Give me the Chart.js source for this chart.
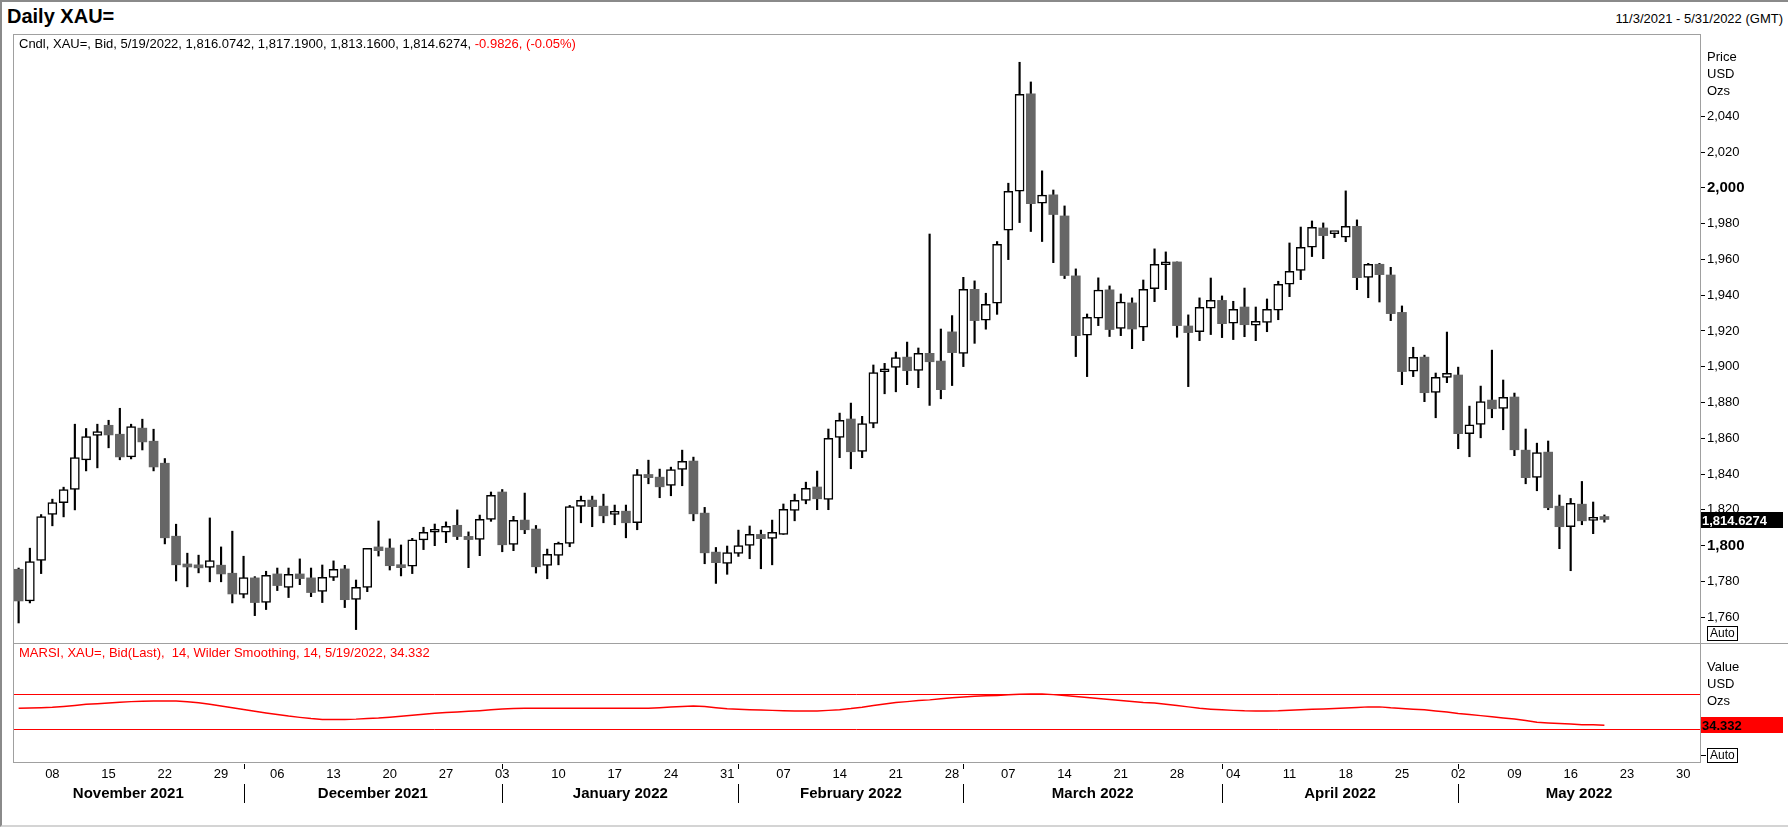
<!DOCTYPE html>
<html>
<head>
<meta charset="utf-8">
<title>Daily XAU=</title>
<script src="https://cdn.jsdelivr.net/npm/chart.js@4.4.0/dist/chart.umd.min.js"></script>
<style>
  body { margin: 0; background: #fff; font-family: "Liberation Sans", Arial, sans-serif; }
  #wrap { position: relative; width: 1788px; height: 827px; overflow: hidden; background: #fff; }
  canvas { position: absolute; left: 0; }
  .txt { position: absolute; white-space: nowrap; color: #000; font-size: 13px; line-height: 16px; }
  .frame { position: absolute; border: 1px solid #a0a0a0; box-sizing: border-box; pointer-events: none; }
  .hline { position: absolute; height: 1px; background: #a0a0a0; }
  .auto { position: absolute; border: 1px solid #000; font-size: 12px; line-height: 13px; padding: 0 2px; }
  .outer { position: absolute; left: 0; top: 0; width: 1788px; height: 827px; box-sizing: border-box;
           border-top: 2px solid #8a8a8a; border-left: 2px solid #8a8a8a; border-bottom: 2px solid #d4d4d4; pointer-events: none; }
</style>
</head>
<body>
<div id="wrap">
  <canvas id="priceChart" width="1788" height="609" style="top:34px"></canvas>
  <canvas id="rsiChart" width="1788" height="184" style="top:643px"></canvas>

  <div class="frame" style="left:13px;top:34px;width:1688px;height:729px"></div>
  <div class="hline" style="left:13px;top:643px;width:1775px"></div>

  <div class="txt" style="left:7px;top:3px;font-size:20px;line-height:26px;font-weight:bold">Daily XAU=</div>
  <div class="txt" style="right:5px;top:11px">11/3/2021 - 5/31/2022 (GMT)</div>
  <div class="txt" style="left:19px;top:36px">Cndl, XAU=, Bid, 5/19/2022, 1,816.0742, 1,817.1900, 1,813.1600, 1,814.6274, <span style="color:#f00">-0.9826, (-0.05%)</span></div>

  <div class="txt" style="left:1707px;top:49px">Price</div>
  <div class="txt" style="left:1707px;top:66px">USD</div>
  <div class="txt" style="left:1707px;top:83px">Ozs</div>
  <div class="auto" style="left:1707px;top:626px">Auto</div>

  <div class="txt" style="left:19px;top:645px;color:#f00">MARSI, XAU=, Bid(Last),&nbsp; 14, Wilder Smoothing, 14, 5/19/2022, 34.332</div>
  <div class="txt" style="left:1707px;top:659px">Value</div>
  <div class="txt" style="left:1707px;top:676px">USD</div>
  <div class="txt" style="left:1707px;top:693px">Ozs</div>
  <div class="hline" style="left:1701px;top:755px;width:5px;background:#000"></div>
  <div class="auto" style="left:1707px;top:748px">Auto</div>

  <div class="outer"></div>
</div>

<script>
// candles, one per weekday from 3 Nov 2021 to 19 May 2022
const opens = [
  1786.8, 1769.1, 1791.7, 1817.4, 1824.1, 1831.4, 1848.0, 1861.6, 1867.3, 1862.3,
  1849.6, 1865.7, 1858.4, 1846.1, 1805.3, 1789.6, 1788.9, 1787.8, 1789.1, 1784.6,
  1772.7, 1782.0, 1768.3, 1784.2, 1776.7, 1784.2, 1782.0, 1774.5, 1782.3, 1787.0,
  1770.0, 1776.7, 1799.3, 1798.7, 1789.2, 1788.5, 1803.2, 1807.5, 1807.5, 1811.4,
  1805.2, 1803.5, 1814.7, 1830.0, 1800.7, 1814.3, 1809.3, 1789.0, 1794.6, 1801.3,
  1821.9, 1825.5, 1822.1, 1817.5, 1819.3, 1812.9, 1839.8, 1838.3, 1833.7, 1842.6,
  1847.3, 1818.2, 1796.4, 1790.1, 1795.7, 1800.1, 1806.3, 1804.1, 1806.3, 1819.7,
  1825.3, 1832.8, 1825.9, 1860.5, 1870.8, 1852.7, 1868.3, 1897.2, 1899.6, 1905.4,
  1898.0, 1907.5, 1903.2, 1919.5, 1907.5, 1943.3, 1926.0, 1935.5, 1976.3, 1998.1,
  2052.5, 1991.4, 1996.1, 1984.3, 1950.8, 1917.6, 1927.1, 1943.0, 1921.5, 1935.7,
  1922.1, 1943.7, 1957.0, 1958.6, 1922.8, 1919.6, 1932.7, 1937.1, 1924.3, 1933.4,
  1923.2, 1924.8, 1931.6, 1946.1, 1953.9, 1966.8, 1977.6, 1974.4, 1972.4, 1978.5,
  1950.0, 1957.3, 1951.3, 1930.4, 1897.5, 1905.4, 1885.7, 1894.1, 1895.4, 1862.6,
  1867.8, 1881.4, 1876.7, 1883.1, 1853.4, 1838.2, 1852.3, 1822.1, 1810.6, 1823.2,
  1814.1, 1816.0742
];
const highs = [
  1787.5, 1798.6, 1817.4, 1826.0, 1832.7, 1867.9, 1865.5, 1867.9, 1870.1, 1876.8,
  1867.9, 1870.7, 1865.1, 1848.7, 1812.0, 1795.8, 1794.7, 1815.5, 1799.3, 1808.1,
  1794.1, 1782.7, 1785.7, 1787.5, 1787.5, 1792.6, 1787.5, 1789.2, 1791.5, 1789.0,
  1780.8, 1798.5, 1813.8, 1803.8, 1800.4, 1804.1, 1810.3, 1812.1, 1813.3, 1820.0,
  1807.7, 1817.1, 1830.0, 1831.4, 1816.4, 1829.4, 1811.3, 1798.1, 1802.0, 1822.5,
  1827.7, 1827.7, 1828.8, 1822.7, 1822.7, 1842.6, 1847.8, 1842.8, 1843.9, 1853.4,
  1849.5, 1821.4, 1799.0, 1799.8, 1808.7, 1811.0, 1808.7, 1814.3, 1823.3, 1828.8,
  1835.5, 1841.7, 1865.2, 1874.1, 1879.7, 1872.3, 1901.0, 1901.9, 1908.2, 1913.8,
  1910.5, 1974.2, 1921.1, 1928.6, 1950.0, 1948.0, 1941.1, 1970.0, 2002.6, 2070.2,
  2059.2, 2009.5, 1998.8, 1989.9, 1954.7, 1929.5, 1949.7, 1945.2, 1940.7, 1938.5,
  1948.5, 1965.9, 1964.2, 1958.6, 1929.0, 1938.5, 1949.6, 1939.6, 1936.6, 1944.0,
  1933.4, 1937.9, 1947.8, 1969.2, 1978.1, 1981.5, 1980.4, 1975.3, 1998.3, 1982.1,
  1957.8, 1957.8, 1955.6, 1934.0, 1910.9, 1906.5, 1896.5, 1919.4, 1899.8, 1878.0,
  1889.2, 1909.3, 1892.6, 1885.3, 1865.2, 1857.3, 1858.5, 1828.3, 1826.4, 1835.9,
  1824.4, 1817.19
];
const lows = [
  1756.8, 1768.0, 1784.4, 1811.1, 1816.1, 1820.0, 1841.8, 1843.5, 1854.7, 1848.0,
  1848.5, 1853.5, 1841.8, 1801.0, 1780.3, 1777.0, 1784.8, 1779.8, 1779.8, 1768.0,
  1770.8, 1760.9, 1764.3, 1774.9, 1771.0, 1778.2, 1771.5, 1768.2, 1780.5, 1765.4,
  1753.1, 1774.3, 1794.2, 1786.4, 1783.1, 1784.4, 1797.8, 1800.0, 1801.7, 1803.4,
  1787.7, 1794.4, 1813.6, 1796.6, 1797.2, 1806.7, 1784.7, 1781.5, 1789.3, 1799.4,
  1812.8, 1810.6, 1812.8, 1811.7, 1804.4, 1808.9, 1834.6, 1826.8, 1827.9, 1833.5,
  1813.9, 1789.9, 1778.9, 1784.0, 1794.0, 1792.7, 1787.1, 1789.3, 1806.3, 1813.9,
  1823.4, 1820.1, 1820.1, 1849.2, 1843.0, 1849.2, 1865.9, 1884.9, 1886.0, 1890.0,
  1888.3, 1878.4, 1882.1, 1889.5, 1900.1, 1913.1, 1921.0, 1929.3, 1959.9, 1980.6,
  1975.6, 1970.0, 1958.2, 1949.3, 1905.7, 1894.5, 1923.0, 1916.9, 1917.4, 1910.1,
  1914.6, 1936.4, 1943.1, 1916.5, 1888.9, 1914.6, 1918.0, 1916.3, 1915.2, 1916.8,
  1914.6, 1919.6, 1926.3, 1939.2, 1948.7, 1961.6, 1960.4, 1972.2, 1969.9, 1943.1,
  1938.6, 1936.2, 1925.8, 1890.0, 1894.5, 1880.5, 1871.5, 1891.1, 1854.2, 1849.7,
  1860.3, 1871.5, 1864.8, 1850.3, 1834.6, 1830.7, 1820.1, 1798.3, 1786.0, 1811.7,
  1806.7, 1813.16
];
const closes = [
  1769.1, 1791.1, 1816.3, 1824.1, 1831.4, 1849.3, 1861.0, 1863.8, 1861.9, 1849.6,
  1866.6, 1858.0, 1844.0, 1804.4, 1789.3, 1788.1, 1787.6, 1791.7, 1784.2, 1773.0,
  1782.2, 1768.2, 1783.4, 1777.7, 1784.0, 1781.6, 1773.8, 1782.3, 1786.8, 1769.8,
  1776.7, 1798.5, 1797.2, 1788.8, 1787.7, 1803.2, 1807.5, 1808.0, 1810.8, 1805.1,
  1803.4, 1814.7, 1828.1, 1800.5, 1814.1, 1808.9, 1788.2, 1795.1, 1801.3, 1821.9,
  1825.3, 1821.8, 1816.7, 1818.6, 1812.8, 1839.8, 1838.0, 1832.9, 1842.6, 1847.1,
  1817.8, 1796.0, 1790.5, 1796.2, 1800.1, 1806.3, 1803.9, 1807.4, 1820.3, 1825.3,
  1832.0, 1826.2, 1860.0, 1870.0, 1852.5, 1868.3, 1896.8, 1897.8, 1905.2, 1897.8,
  1907.5, 1902.8, 1887.2, 1907.9, 1943.3, 1925.8, 1934.9, 1968.5, 1998.1, 2052.3,
  1991.2, 1995.9, 1985.1, 1951.0, 1917.4, 1927.7, 1942.8, 1920.8, 1936.1, 1921.1,
  1943.3, 1957.3, 1957.5, 1923.0, 1919.1, 1933.2, 1937.1, 1924.1, 1932.1, 1923.5,
  1925.4, 1932.1, 1946.1, 1953.4, 1966.8, 1978.0, 1973.3, 1974.8, 1978.5, 1949.8,
  1957.3, 1951.5, 1929.7, 1897.3, 1905.3, 1885.5, 1894.1, 1896.3, 1862.6, 1867.6,
  1880.6, 1876.5, 1882.9, 1853.6, 1838.0, 1852.1, 1821.2, 1810.6, 1823.6, 1813.9,
  1815.6, 1814.6274
];
// MARSI line
const rsiValues = [
  53.6, 54.0, 54.4, 54.8, 55.8, 57.0, 58.2, 59.0, 59.8, 60.6,
  61.3, 61.8, 62.0, 62.0, 62.0, 61.2, 59.9, 58.3, 56.4, 54.3,
  52.2, 50.2, 48.4, 46.6, 44.8, 43.3, 42.0, 41.0, 41.0, 41.0,
  41.3, 42.0, 42.6, 43.5, 44.5, 45.6, 46.8, 47.9, 48.8, 49.5,
  50.2, 51.0, 52.0, 52.8, 53.4, 53.6, 53.6, 53.6, 53.6, 53.6,
  53.6, 53.6, 53.6, 53.6, 53.6, 53.6, 53.6, 54.4, 55.1, 55.6,
  56.2, 55.6, 54.4, 53.2, 52.6, 52.1, 51.7, 51.3, 51.0, 50.7,
  50.6, 50.7, 51.3, 52.1, 53.4, 55.0, 57.0, 58.7, 60.2, 61.3,
  62.5, 63.3, 64.5, 65.6, 66.6, 67.5, 68.0, 68.4, 69.1, 69.8,
  70.0, 70.0, 69.3, 68.4, 67.1, 66.0, 64.8, 63.6, 62.5, 61.5,
  60.2, 59.6, 58.3, 56.9, 55.3, 53.6, 52.7, 51.9, 51.3, 50.8,
  50.6, 50.6, 50.9, 51.5, 52.0, 52.5, 52.9, 53.4, 54.0, 54.6,
  55.3, 55.3, 54.2, 53.4, 52.6, 51.9, 50.7, 49.4, 47.7, 46.5,
  45.3, 44.0, 42.7, 41.5, 39.8, 37.7, 37.0, 36.2, 35.6, 35.0,
  34.8, 34.332
];
const rsiLevels = [70, 30];
const priceTicks = [1760, 1780, 1800, 1820, 1840, 1860, 1880, 1900, 1920, 1940, 1960, 1980, 2000, 2020, 2040];
const monthLabels = ["November 2021", "December 2021", "January 2022", "February 2022", "March 2022", "April 2022", "May 2022"];

const FONT = '"Liberation Sans", Arial, sans-serif';
Chart.defaults.font.family = FONT;
Chart.defaults.color = "#000";

// weekday slots from 11/3/2021 to 5/31/2022
const sessions = [];
for (let t = Date.UTC(2021, 10, 3); t <= Date.UTC(2022, 4, 31); t += 86400000) {
  const d = new Date(t);
  if (d.getUTCDay() !== 0 && d.getUTCDay() !== 6) sessions.push(d);
}
const sessionLabels = sessions.map((d) => `${d.getUTCMonth() + 1}/${d.getUTCDate()}/${d.getUTCFullYear()}`);

const isUp = opens.map((o, i) => closes[i] >= o);

const lastPricePlugin = {
  id: "lastPrice",
  afterDraw(chart) {
    const { ctx, chartArea, scales } = chart;
    const last = closes[closes.length - 1];
    const y = scales.y.getPixelForValue(last);
    ctx.save();
    ctx.fillStyle = "#000";
    ctx.fillRect(chartArea.right, Math.round(y) - 8, 83, 16);
    ctx.fillStyle = "#fff";
    ctx.font = `bold 13px ${FONT}`;
    ctx.textBaseline = "middle";
    ctx.fillText(last.toLocaleString("en-US", { minimumFractionDigits: 4 }), chartArea.right + 2, Math.round(y) + 1);
    ctx.restore();
  },
};

new Chart(document.getElementById("priceChart"), {
  type: "bar",
  data: {
    labels: sessionLabels,
    datasets: [
      {
        label: "wick",
        data: lows.map((l, i) => [l, highs[i]]),
        backgroundColor: "#000",
        barThickness: 1.5,
        grouped: false,
        order: 2,
      },
      {
        label: "body",
        data: opens.map((o, i) => [o, closes[i]]),
        backgroundColor: isUp.map((u) => (u ? "#fff" : "#666666")),
        borderColor: isUp.map((u) => (u ? "#000" : "#666666")),
        borderWidth: isUp.map((u) => (u ? 1.5 : 0)),
        borderSkipped: false,
        barThickness: 9,
        minBarLength: 3,
        grouped: false,
        order: 1,
      },
    ],
  },
  options: {
    responsive: false,
    animation: false,
    events: [],
    layout: { padding: { left: 13, right: 0, top: 0, bottom: 0 } },
    plugins: { legend: { display: false }, tooltip: { enabled: false } },
    scales: {
      x: { display: false, offset: true, grid: { display: false } },
      y: {
        position: "right",
        min: 1745.6,
        max: 2086,
        afterBuildTicks(scale) {
          scale.ticks = priceTicks.map((v) => ({ value: v }));
        },
        afterFit(scale) {
          scale.width = 88;
          scale.paddingTop = 0;
          scale.paddingBottom = 0;
        },
        ticks: {
          padding: 2,
          color: "#000",
          font: (c) =>
            c.tick && c.tick.value % 200 === 0
              ? { size: 15, weight: "bold", family: FONT }
              : { size: 13, family: FONT },
          callback: (v) => v.toLocaleString("en-US"),
        },
        grid: { drawOnChartArea: false, drawTicks: true, tickLength: 5, color: "#000" },
        border: { display: false },
      },
    },
  },
  plugins: [lastPricePlugin],
});

const rsiDecorPlugin = {
  id: "rsiDecor",
  beforeDatasetsDraw(chart) {
    const { ctx, chartArea, scales } = chart;
    ctx.save();
    ctx.strokeStyle = "#ff0000";
    ctx.lineWidth = 1;
    rsiLevels.forEach((lv) => {
      const y = Math.round(scales.y.getPixelForValue(lv)) + 0.5;
      ctx.beginPath();
      ctx.moveTo(chartArea.left, y);
      ctx.lineTo(chartArea.right, y);
      ctx.stroke();
    });
    ctx.restore();
  },
  afterDraw(chart) {
    const { ctx, chartArea, scales } = chart;
    const x = scales.x;
    ctx.save();
    // value box
    const last = rsiValues[rsiValues.length - 1];
    const y = Math.round(scales.y.getPixelForValue(last));
    ctx.fillStyle = "#ff0000";
    ctx.fillRect(chartArea.right, y - 8, 83, 16);
    ctx.fillStyle = "#000";
    ctx.font = `bold 13px ${FONT}`;
    ctx.textBaseline = "middle";
    ctx.fillText(last.toFixed(3), chartArea.right + 2, y + 1);

    // month separators and names
    const starts = [];
    sessions.forEach((d, i) => {
      if (i === 0 || d.getUTCMonth() !== sessions[i - 1].getUTCMonth()) starts.push(i);
    });
    ctx.strokeStyle = "#000";
    ctx.lineWidth = 1;
    ctx.font = `bold 15px ${FONT}`;
    ctx.textAlign = "center";
    starts.forEach((s, k) => {
      const left = k === 0 ? chartArea.left : x.getPixelForValue(s);
      const right = k + 1 < starts.length ? x.getPixelForValue(starts[k + 1]) : chartArea.right;
      if (k > 0) {
        const px = Math.round(left) + 0.5;
        ctx.beginPath();
        ctx.moveTo(px, chartArea.bottom + 2);
        ctx.lineTo(px, chartArea.bottom + 7);
        ctx.moveTo(px, chartArea.bottom + 22);
        ctx.lineTo(px, chartArea.bottom + 41);
        ctx.stroke();
      }
      ctx.fillText(monthLabels[k], (left + right) / 2, chartArea.bottom + 32);
    });
    ctx.restore();
  },
};

new Chart(document.getElementById("rsiChart"), {
  type: "line",
  data: {
    labels: sessionLabels,
    datasets: [
      {
        label: "MARSI",
        data: rsiValues,
        borderColor: "#ff0000",
        borderWidth: 1.5,
        pointRadius: 0,
        tension: 0,
      },
    ],
  },
  options: {
    responsive: false,
    animation: false,
    events: [],
    layout: { padding: { left: 13, right: 88, top: 0, bottom: 0 } },
    plugins: { legend: { display: false }, tooltip: { enabled: false } },
    scales: {
      x: {
        offset: true,
        grid: { display: false, drawTicks: false },
        border: { display: false },
        afterFit(scale) {
          scale.height = 65;
        },
        ticks: {
          autoSkip: false,
          maxRotation: 0,
          padding: 6,
          color: "#000",
          font: { size: 13, family: FONT, lineHeight: 1 },
          callback: (v, i) => {
            const d = sessions[i];
            return d.getUTCDay() === 1 ? String(d.getUTCDate()).padStart(2, "0") : "";
          },
        },
      },
      y: { display: false, min: -7.7, max: 128.3 },
    },
  },
  plugins: [rsiDecorPlugin],
});
</script>
</body>
</html>
